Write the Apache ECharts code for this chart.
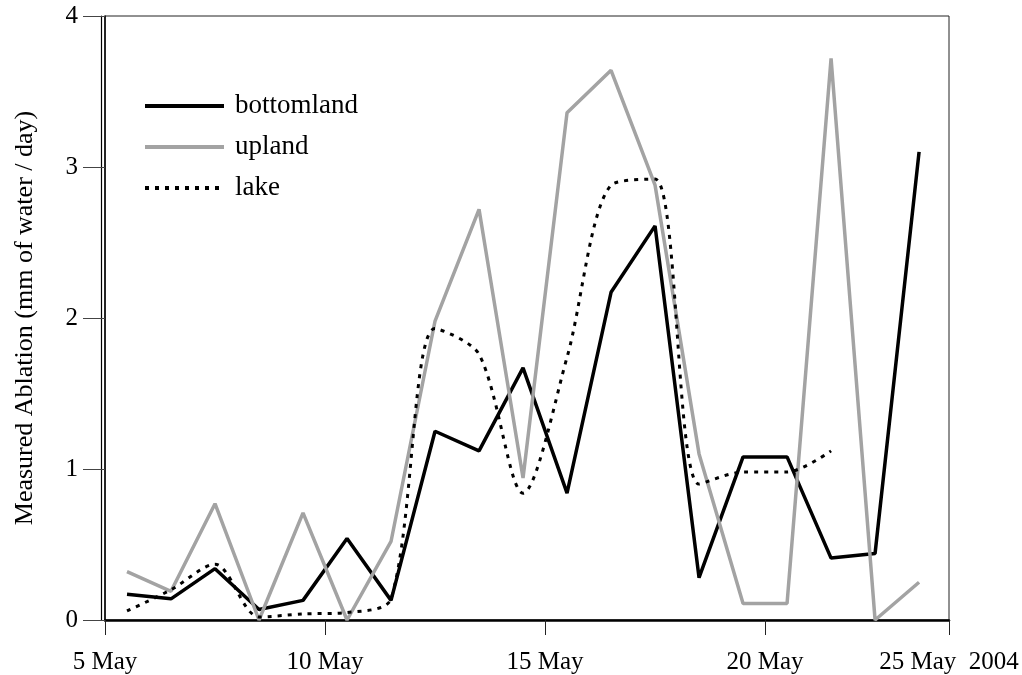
<!DOCTYPE html>
<html>
<head>
<meta charset="utf-8">
<script src="https://cdn.jsdelivr.net/npm/echarts@6/dist/echarts.min.js"></script>
<style>html,body{margin:0;padding:0;background:#fff}#c{width:1022px;height:675px}</style>
</head>
<body>
<div id="c"></div>
<script>
// Day positions (noon of each day in May 2004)
var days = [5.5, 6.5, 7.5, 8.5, 9.5, 10.5, 11.5, 12.5, 13.5, 14.5, 15.5, 16.5, 17.5, 18.5, 19.5, 20.5, 21.5, 22.5, 23.5];
var bottomland = [0.17, 0.14, 0.34, 0.07, 0.13, 0.54, 0.13, 1.25, 1.12, 1.67, 0.84, 2.17, 2.61, 0.28, 1.08, 1.08, 0.41, 0.44, 3.10];
var upland     = [0.32, 0.19, 0.77, 0.00, 0.71, 0.00, 0.52, 1.98, 2.72, 0.94, 3.36, 3.64, 2.88, 1.10, 0.11, 0.11, 3.72, 0.00, 0.25];
var lake       = [0.06, 0.20, 0.37, 0.02, 0.04, 0.05, 0.14, 1.93, 1.76, 0.84, 1.74, 2.88, 2.92, 0.90, 0.98, 0.98, 1.12, null, null];
var xTickValues = [5, 10, 15, 20, 24.18];
var xTickLabels = ['5 May', '10 May', '15 May', '20 May', '25 May  2004'];
var yTicks = [0, 1, 2, 3, 4];

function pairs(vals) {
  return days.map(function (d, i) { return [d, vals[i]]; });
}

var font = '"Liberation Serif", "DejaVu Serif", serif';
var chart = echarts.init(document.getElementById('c'));
chart.setOption({
  animation: false,
  backgroundColor: '#fff',
  textStyle: { fontFamily: font, color: '#000' },
  grid: { left: 105, right: 73, top: 16, bottom: 55, show: true, borderColor: '#222', borderWidth: 1 },
  legend: {
    orient: 'vertical', left: 138, top: 87, itemWidth: 79, itemHeight: 14, itemGap: 13,
    itemStyle: { opacity: 0 },
    lineStyle: { width: 4 },
    textStyle: { fontFamily: font, fontSize: 27, lineHeight: 28, color: '#000', padding: [0, 0, 0, 6] },
    data: ['bottomland', 'upland', 'lake']
  },
  xAxis: {
    type: 'value', min: 5, max: 24.18, interval: 5,
    axisLine: { show: true, lineStyle: { color: '#000', width: 2.5 } },
    axisTick: { show: true, length: 15, customValues: xTickValues, lineStyle: { color: '#222', width: 1 } },
    axisLabel: {
      customValues: xTickValues, fontFamily: font, fontSize: 25, color: '#000', margin: 30,
      formatter: function (v) { var i = xTickValues.indexOf(v); return i >= 0 ? xTickLabels[i] : ''; }
    },
    splitLine: { show: false }
  },
  yAxis: [{
    type: 'value', min: 0, max: 4, interval: 1,
    name: 'Measured Ablation (mm of water / day)', nameLocation: 'middle', nameGap: 67,
    nameTextStyle: { fontFamily: font, fontSize: 26, color: '#000' },
    axisLine: { show: true, lineStyle: { color: '#000', width: 1.5 } },
    axisTick: { show: true, length: 22, lineStyle: { color: '#444', width: 1 } },
    axisLabel: { fontFamily: font, fontSize: 25, color: '#000', margin: 27,
      formatter: function (v) { return yTicks.indexOf(v) >= 0 ? String(v) : ''; } },
    splitLine: { show: false }
  }, {
    type: 'value', min: 0, max: 4, interval: 1, position: 'left', offset: 4,
    axisLine: { show: true, lineStyle: { color: '#000', width: 1.2 } },
    axisTick: { show: false }, axisLabel: { show: false }, splitLine: { show: false }
  }],
  series: [
    { name: 'bottomland', type: 'line', data: pairs(bottomland), symbol: 'none',
      lineStyle: { color: '#000', width: 3.5 }, itemStyle: { color: '#000' } },
    { name: 'upland', type: 'line', data: pairs(upland), symbol: 'none',
      lineStyle: { color: '#a3a3a3', width: 3.5 }, itemStyle: { color: '#a3a3a3' } },
    { name: 'lake', type: 'line', data: pairs(lake), symbol: 'none', smooth: 0.3, connectNulls: false,
      lineStyle: { color: '#000', width: 3, type: [4, 6] }, itemStyle: { color: '#000' } }
  ]
});
</script>
</body>
</html>
